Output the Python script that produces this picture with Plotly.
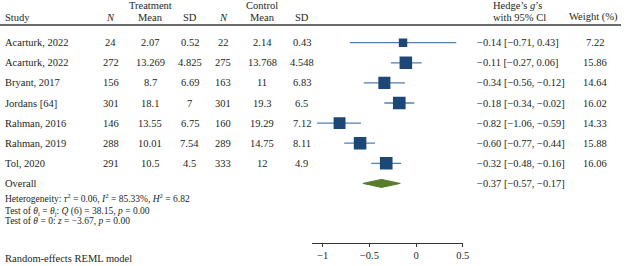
import plotly.graph_objects as go

# ---------------- data ----------------
studies = ["Acarturk, 2022", "Acarturk, 2022", "Bryant, 2017", "Jordans [64]",
           "Rahman, 2016", "Rahman, 2019", "Tol, 2020"]
n_t = [24, 272, 156, 301, 146, 288, 291]
mean_t = [2.07, 13.269, 8.7, 18.1, 13.55, 10.01, 10.5]
sd_t = [0.52, 4.825, 6.69, 7, 6.75, 7.54, 4.5]
n_c = [22, 275, 163, 301, 160, 289, 333]
mean_c = [2.14, 13.768, 11, 19.3, 19.29, 14.75, 12]
sd_c = [0.43, 4.548, 6.83, 6.5, 7.12, 8.11, 4.9]
g = [-0.14, -0.11, -0.34, -0.18, -0.82, -0.60, -0.32]
g_lo = [-0.71, -0.27, -0.56, -0.34, -1.06, -0.77, -0.48]
g_hi = [0.43, 0.06, -0.12, -0.02, -0.59, -0.44, -0.16]
weight = [7.22, 15.86, 14.64, 16.02, 14.33, 15.88, 16.06]
overall = [-0.37, -0.57, -0.17]  # estimate, lower, upper
tick_vals = [-1, -0.5, 0, 0.5]
tick_text = ["\u22121", "\u22120.5", "0", "0.5"]

W, H = 628, 266
FONT = "Liberation Serif"
TXT = "#231f20"
FS = 10.5

rows = list(range(len(studies)))
overall_row = len(studies)

ROW0, STEP = 42.7, 20.1


def px_to_row(py):
    return (py - ROW0) / STEP


def fmt(v):
    return f"{v:.2f}".replace("-", "\u2212")


fig = go.Figure()

# CI lines
ci_x, ci_y = [], []
for i in rows:
    ci_x += [g_lo[i], g_hi[i], None]
    ci_y += [i, i, None]
fig.add_trace(go.Scatter(x=ci_x, y=ci_y, mode="lines",
                         line=dict(color="#4f80b0", width=1.3),
                         hoverinfo="skip", showlegend=False))

# squares (area proportional to weight)
fig.add_trace(go.Scatter(
    x=g, y=rows, mode="markers",
    marker=dict(symbol="square", color="#1b4876", opacity=1,
                size=[12.6 * (w / 16.0) ** 0.5 for w in weight],
                line=dict(width=0)),
    hoverinfo="skip", showlegend=False))

# overall diamond
est, lo, hi = overall
fig.add_trace(go.Scatter(
    x=[lo, est, hi, est, lo],
    y=[overall_row, overall_row - 0.2, overall_row, overall_row + 0.2, overall_row],
    mode="lines", fill="toself", fillcolor="#587c2b",
    line=dict(color="#587c2b", width=1),
    hoverinfo="skip", showlegend=False))

ann = []


def text(px, row, s, anchor="center", size=FS, yanchor="middle"):
    ann.append(dict(x=px / W, xref="paper", y=row, yref="y", text=s,
                    showarrow=False, xanchor=anchor, yanchor=yanchor,
                    font=dict(family=FONT, size=size, color=TXT)))


# headers
hdr1 = px_to_row(5)
hdr2 = px_to_row(17.3)
text(152, hdr1, "Treatment")
text(265, hdr1, "Control")
text(523, hdr1, "Hedge\u2019s <i>g</i>\u2019s")
text(3, hdr2, "Study", "left")
text(112, hdr2, "<i>N</i>")
text(152, hdr2, "Mean")
text(192, hdr2, "SD")
text(226, hdr2, "<i>N</i>")
text(265, hdr2, "Mean")
text(305, hdr2, "SD")
text(525, hdr2, "with 95% Cl")
text(600, hdr2, "Weight (%)")

# study rows
for i in rows:
    text(3, i, studies[i], "left")
    text(112, i, str(n_t[i]))
    text(152, i, str(mean_t[i]))
    text(192, i, str(sd_t[i]))
    text(226, i, str(n_c[i]))
    text(265, i, str(mean_c[i]))
    text(305, i, str(sd_c[i]))
    text(480, i, f"{fmt(g[i])} [{fmt(g_lo[i])}, {fmt(g_hi[i])}]", "left")
    text(602, i, f"{weight[i]:.2f}")

text(3, overall_row, "Overall", "left")
text(480, overall_row, f"{fmt(est)} [{fmt(lo)}, {fmt(hi)}]", "left")

SM = 9.5
text(3, px_to_row(197.5),
     "Heterogeneity: <i>\u03c4</i><sup>2</sup> = 0.06, <i>I</i><sup>2</sup> = 85.33%, "
     "<i>H</i><sup>2</sup> = 6.82", "left", SM)
text(3, px_to_row(211),
     "Test of <i>\u03b8</i><sub>i</sub> = <i>\u03b8</i><sub>j</sub>: <i>Q</i> (6) = 38.15, "
     "<i>p</i> = 0.00", "left", SM)
text(3, px_to_row(220.5),
     "Test of <i>\u03b8</i> = 0: <i>z</i> = \u22123.67, <i>p</i> = 0.00", "left", SM)
text(3, px_to_row(258), "Random-effects REML model", "left", 10.5)

shapes = [dict(type="line", xref="paper", yref="y", x0=0, x1=1,
               y0=px_to_row(25), y1=px_to_row(25),
               line=dict(color="#3a3a3a", width=1.3))]

fig.update_layout(
    width=W, height=H, margin=dict(l=0, r=0, t=0, b=0),
    paper_bgcolor="white", plot_bgcolor="white",
    annotations=ann, shapes=shapes,
    xaxis=dict(domain=[316 / W, 468 / W], range=[-1.11, 0.5],
               anchor="free", position=1 - 242.7 / H,
               showline=True, linecolor="#333", linewidth=1,
               ticks="outside", ticklen=3, tickcolor="#333",
               tickvals=tick_vals, ticktext=tick_text,
               tickfont=dict(family=FONT, size=FS, color=TXT),
               showgrid=False, zeroline=False),
    yaxis=dict(domain=[0, 1], range=[px_to_row(H), px_to_row(0)],
               visible=False, showgrid=False, zeroline=False),
)

fig.write_html("out.html", config={"displayModeBar": False},
               post_script="document.body.style.margin='0px';")
